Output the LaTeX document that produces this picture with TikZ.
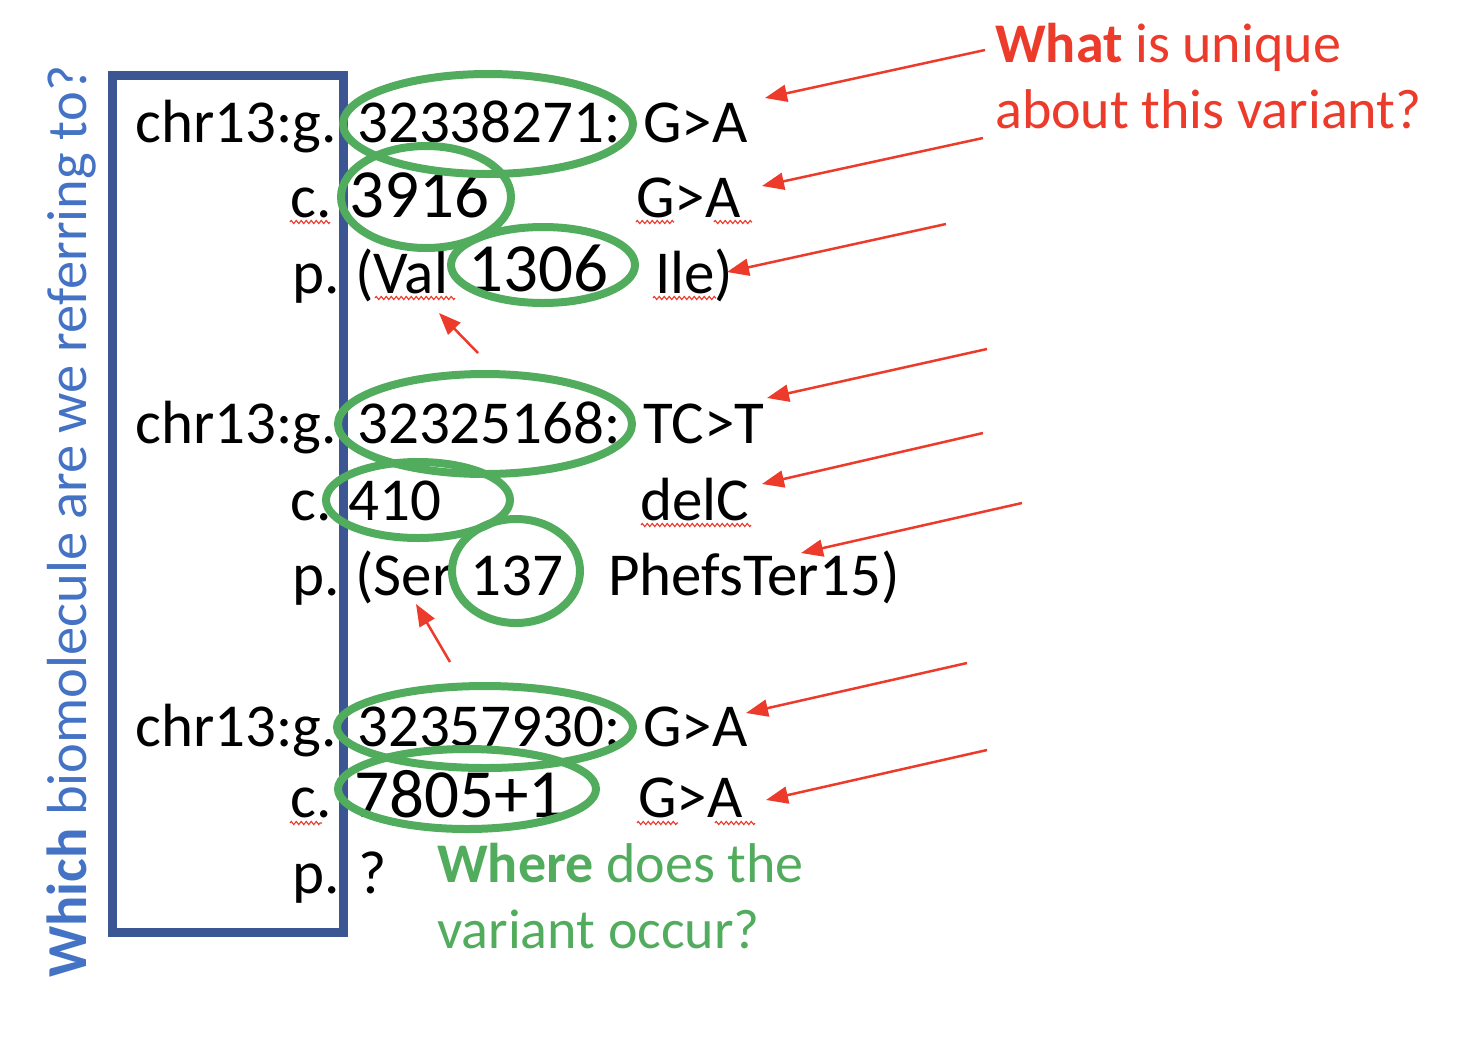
\documentclass[tikz,border=0pt]{standalone}
\usepackage{fontspec}
\setmainfont{Carlito}
\usetikzlibrary{arrows.meta,decorations.pathmorphing}
\definecolor{ringgreen}{HTML}{52AC5D}
\definecolor{boxblue}{HTML}{3B5693}
\definecolor{askblue}{HTML}{4472C4}
\definecolor{notered}{HTML}{EC3A2B}
\tikzset
{
    hgvs/.style     = {anchor=base west, inner sep=0pt, font=\fontsize{61}{73}\selectfont},
    bignum/.style   = {hgvs, font=\fontsize{69}{82}\selectfont},
    note/.style     = {anchor=base west, inner sep=0pt, font=\fontsize{56}{66}\selectfont},
    ring/.style     = {draw=ringgreen, line width=8pt},
    pointer/.style  = {draw=notered, line width=2.5pt, -{Triangle[length=22pt,width=17pt]}},
    squiggle/.style = {draw=notered, line width=1.1pt, decorate, decoration={zigzag, segment length=5pt, amplitude=1.6pt}}
}

\begin{document}
\begin{tikzpicture}[x=1pt, y=-1pt]
	\useasboundingbox (0,0) rectangle (1458,1042);

	% first variant
	\node (g1lab) [hgvs] at (135,142) {chr13:g.};
	\node (g1pos) [hgvs] at (357,142) {32338271:};
	\node (g1chg) [hgvs] at (643,142) {G>A};
	\node (c1lab) [hgvs] at (290,217) {c.};
	\node (c1pos) [bignum] at (349,217) {3916};
	\node (c1chg) [hgvs] at (636,217) {G>A};
	\node (p1lab) [hgvs] at (292,293) {p.};
	\node (p1ref) [hgvs] at (355,293) {(Val};
	\node (p1pos) [bignum] at (468,291) {1306};
	\node (p1alt) [hgvs] at (655,293) {Ile)};

	% second variant
	\node (g2lab) [hgvs] at (135,443) {chr13:g.};
	\node (g2pos) [hgvs] at (357,443) {32325168:};
	\node (g2chg) [hgvs] at (643,443) {TC>T};
	\node (c2lab) [hgvs] at (290,520) {c.};
	\node (c2pos) [hgvs] at (348,520) {410};
	\node (c2chg) [hgvs] at (640,520) {delC};
	\node (p2lab) [hgvs] at (292,595) {p.};
	\node (p2ref) [hgvs] at (355,595) {(Ser};
	\node (p2pos) [hgvs] at (470,595) {137};
	\node (p2alt) [hgvs] at (608,595) {PhefsTer15)};

	% third variant
	\node (g3lab) [hgvs] at (135,746) {chr13:g.};
	\node (g3pos) [hgvs] at (357,746) {32357930:};
	\node (g3chg) [hgvs] at (643,746) {G>A};
	\node (c3lab) [hgvs] at (290,817) {c.};
	\node (c3pos) [bignum] at (354,817) {7805+1};
	\node (c3chg) [hgvs] at (638,817) {G>A};
	\node (p3lab) [hgvs] at (292,893) {p.};
	\node (p3pos) [hgvs] at (358,893) {?};

	% questions
	\node (uniq1) [note, text=notered] at (995,62) {\textbf{What} is unique};
	\node (uniq2) [note, text=notered] at (995,128) {about this variant?};
	\node (where1) [note, text=ringgreen] at (437,882) {\textbf{Where} does the};
	\node (where2) [note, text=ringgreen] at (437,948) {variant occur?};
	\node (which) [note, text=askblue, rotate=90, font=\fontsize{56.5}{66}\selectfont] at (86,978) {\textbf{Which} biomolecule are we referring to?};

	% spell-check marks
	\foreach \xa/\xb/\yy in {290/330/222, 636/674/222, 714/752/222, 375/455/298, 653/716/298,
		641/751/525, 290/322/823, 637/678/823, 715/755/823}
		\draw [squiggle] (\xa,\yy) -- (\xb,\yy);

	\draw [boxblue, line width=9pt] (112.5,75) rectangle (343,932);

	% position rings
	\draw [ring] (488,124) ellipse [x radius=145pt, y radius=50pt];
	\draw [ring] (426,197) ellipse [x radius=85pt, y radius=51pt];
	\draw [ring] (543,265) ellipse [x radius=92pt, y radius=38pt];
	\draw [ring] (485,424) ellipse [x radius=147pt, y radius=50pt];
	\draw [ring] (418,500) ellipse [x radius=92pt, y radius=38pt];
	\draw [ring] (516,571) ellipse [x radius=64pt, y radius=52pt];
	\draw [ring] (485,727) ellipse [x radius=148pt, y radius=41pt];
	\draw [ring] (467,789) ellipse [x radius=129pt, y radius=40pt];

	% pointers
	\foreach \sx/\sy/\ex/\ey in {985/50/765/98, 983/138/762/186, 946/224/727/272,
		987/349/767/398, 983/433/762/484, 1022/503/801/553, 967/663/746/713,
		987/750/766/800, 478/353/439/313, 450/662/416/604}
		\draw [pointer] (\sx,\sy) -- (\ex,\ey);
\end{tikzpicture}
\end{document}
